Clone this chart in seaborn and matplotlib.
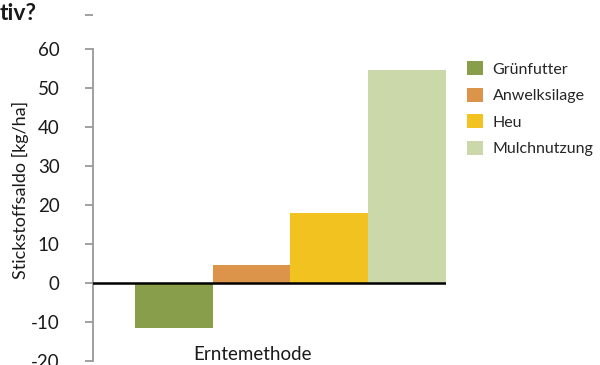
import matplotlib
matplotlib.use("Agg")
import matplotlib.pyplot as plt
import seaborn as sns
import pandas as pd

categories = ["Grünfutter", "Anwelksilage", "Heu", "Mulchnutzung"]
values = [-11.5, 4.5, 17.9, 54.5]
colors = ["#889e4a", "#dc944b", "#f2c221", "#cbd8aa"]
yticks = [-20, -10, 0, 10, 20, 30, 40, 50, 60]

sns.set_theme(style="white")
plt.rcParams["font.family"] = ["Lato", "DejaVu Sans"]

df = pd.DataFrame({"Erntemethode": categories, "Saldo": values})

fig = plt.figure(figsize=(6.0, 3.65), dpi=100)
ax_bottom, ax_top = 360.7, 13.6
ax = fig.add_axes([93 / 600, 1 - ax_bottom / 365, (445.5 - 93) / 600, (ax_bottom - ax_top) / 365])

sns.barplot(data=df, x="Erntemethode", y="Saldo", hue="Erntemethode",
            palette=dict(zip(categories, colors)), width=1.0, saturation=1,
            linewidth=0, legend=True, ax=ax)

ax.set_xlim(-1.04, 3.5)
ax.set_ylim(-20, 69)
ax.axhline(0, color="black", lw=1.8, zorder=5)

top_tick = 68.6
ax.set_yticks(yticks + [top_tick])
ax.set_yticklabels([str(t) for t in yticks] + [""], fontsize=13.5)
ax.tick_params(axis="y", direction="out", length=6, width=1.3, color="#999999",
               left=True, pad=18, labelcolor="#1a1a1a")
ax.tick_params(axis="x", bottom=False, labelbottom=False)

for s in ["top", "right", "bottom"]:
    ax.spines[s].set_visible(False)
ax.spines["left"].set_color("#999999")
ax.spines["left"].set_linewidth(1.3)
ax.spines["left"].set_bounds(-20, 60)

h = ax_bottom - ax_top
ax.set_xlabel("Erntemethode", fontsize=13.5, color="#1a1a1a", va="center")
ax.xaxis.set_label_coords((252 - 93) / 352.5, (ax_bottom - 354) / h)
ax.set_ylabel("Stickstoffsaldo [kg/ha]", fontsize=13, color="#1a1a1a", va="center")
ax.yaxis.set_label_coords(-(93 - 20) / 352.5, (ax_bottom - 190) / h)

handles, labels = ax.get_legend_handles_labels()
leg = ax.legend(handles, labels, loc="upper left", bbox_to_anchor=(456 / 600, 1 - 50 / 365),
                bbox_transform=fig.transFigure, frameon=False, fontsize=11.5,
                handlelength=1.0, handleheight=1.0, labelspacing=0.68, handletextpad=0.6,
                borderpad=0.2)

fig.text(0.0, 1 - 14 / 365, "tiv?", fontsize=16.5, fontweight="bold", va="center", ha="left",
         color="#1a1a1a")

fig.savefig("out.png", dpi=100)
